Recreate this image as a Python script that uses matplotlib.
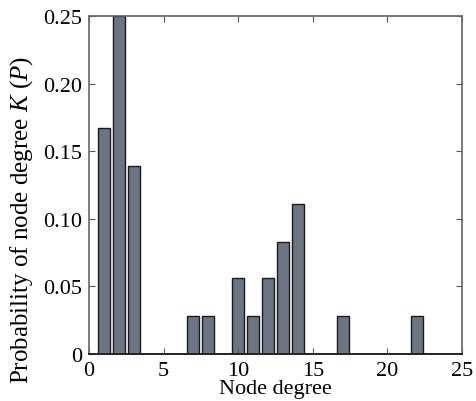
import matplotlib
matplotlib.use("Agg")
import matplotlib.pyplot as plt

# Node degree distribution (probabilities, multiples of 1/36)
degrees = [1, 2, 3, 7, 8, 10, 11, 12, 13, 14, 17, 22]
probs = [0.167, 0.250, 0.139, 0.028, 0.028, 0.056, 0.028, 0.056, 0.083, 0.111, 0.028, 0.028]
xticks = [0, 5, 10, 15, 20, 25]
yticks = [0, 0.05, 0.10, 0.15, 0.20, 0.25]
yticklabels = ["0", "0.05", "0.10", "0.15", "0.20", "0.25"]

plt.rcParams["font.family"] = ["Liberation Serif", "DejaVu Serif"]
plt.rcParams["mathtext.fontset"] = "custom"
plt.rcParams["mathtext.rm"] = "Liberation Serif"
plt.rcParams["mathtext.it"] = "Liberation Serif:italic"

fig = plt.figure(figsize=(4.77, 4.02), dpi=100, facecolor="white")
ax = fig.add_axes([0.1866, 0.1169, 0.7820, 0.8408])

ax.bar(degrees, probs, width=0.8, color="#6b7584", edgecolor="#1a1a1a", linewidth=1.0)

ax.set_xlim(0, 25)
ax.set_ylim(0, 0.25)
ax.set_xticks(xticks)
ax.set_yticks(yticks)
ax.set_yticklabels(yticklabels)
ax.tick_params(direction="in", top=True, right=True, length=4, width=0.8,
               color="#555555", labelsize=16, pad=5)
for side in ["top", "left", "right"]:
    ax.spines[side].set_color("#666666")
    ax.spines[side].set_linewidth(1.2)
ax.spines["bottom"].set_color("#222222")
ax.spines["bottom"].set_linewidth(1.4)

ax.set_xlabel("Node degree", fontsize=16)
ax.xaxis.set_label_coords(0.50, -0.075)
ax.set_ylabel(r"Probability of node degree $K$ ($P$)", fontsize=18)
ax.yaxis.set_label_coords(-0.145, 0.40)

fig.savefig("out.png", dpi=100, facecolor="white")
